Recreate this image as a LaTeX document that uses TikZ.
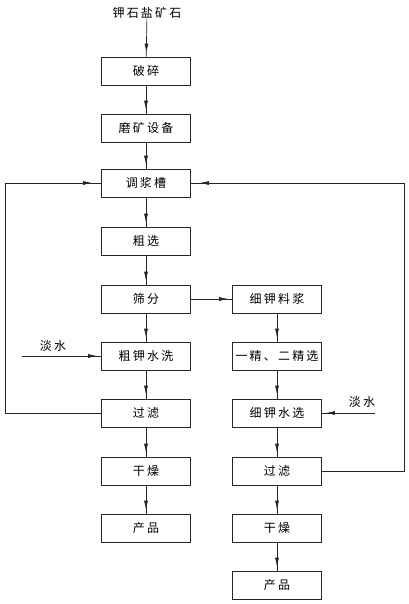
\documentclass[tikz,border=0pt]{standalone}
\usepackage{fontspec}
\setmainfont{Noto Sans CJK SC}
\usetikzlibrary{arrows.meta,decorations.markings}
\newcommand{\gp}{\hspace{2.2pt}}
\tikzset{
  box/.style={draw=black!85, line width=0.7pt, minimum width=89pt, minimum height=28pt, inner sep=0pt, font=\fontsize{12}{13}\selectfont},
  lbl/.style={inner sep=0pt, font=\fontsize{12}{13}\selectfont},
  flow/.style={draw=black!85, line width=0.7pt, postaction={decorate},
    decoration={markings, mark=at position -4pt with {\arrow{Latex[length=9pt,width=4pt]}}}},
  flowfar/.style={draw=black!85, line width=0.7pt, postaction={decorate},
    decoration={markings, mark=at position -9pt with {\arrow{Latex[length=9pt,width=4pt]}}}}
}
\begin{document}
\begin{tikzpicture}[x=1pt,y=-1pt]
\useasboundingbox (0,0) rectangle (408,604);
% left column
\node[lbl] (ore) at (147,13) {钾\gp 石\gp 盐\gp 矿\gp 石};
\node[box] (pos) at (146,71) {破\gp 碎};
\node[box] (mill) at (146,128) {磨\gp 矿\gp 设\gp 备};
\node[box] (tank) at (146,183) {调\gp 浆\gp 槽};
\node[box] (rough) at (146,241) {粗\gp 选};
\node[box] (sieve) at (146,299) {筛\gp 分};
\node[box] (cwash) at (146,356) {粗\gp 钾\gp 水\gp 洗};
\node[box] (filtL) at (146,413) {过\gp 滤};
\node[box] (dryL) at (146,471) {干\gp 燥};
\node[box] (prodL) at (146,528) {产\gp 品};
% right column
\node[box] (slurry) at (277,299) {细\gp 钾\gp 料\gp 浆};
\node[box] (clean) at (277,356) {一\gp 精\gp 、\gp 二\gp 精\gp 选};
\node[box] (fwash) at (277,413) {细\gp 钾\gp 水\gp 选};
\node[box] (filtR) at (277,471) {过\gp 滤};
\node[box] (dryR) at (277,528) {干\gp 燥};
\node[box] (prodR) at (277,585) {产\gp 品};
% water inputs
\coordinate (wL) at (22,356);
\coordinate (wR) at (375,413);
\node[lbl] (wLl) at (53,346) {淡\gp 水};
\node[lbl] (wRl) at (362,402) {淡\gp 水};
% main flow
\draw[flow] (ore) -- (pos);
\draw[flow] (pos) -- (mill);
\draw[flow] (mill) -- (tank);
\draw[flow] (tank) -- (rough);
\draw[flow] (rough) -- (sieve);
\draw[flow] (sieve) -- (cwash);
\draw[flow] (cwash) -- (filtL);
\draw[flow] (filtL) -- (dryL);
\draw[flow] (dryL) -- (prodL);
\draw[flow] (sieve) -- (slurry);
\draw[flow] (slurry) -- (clean);
\draw[flow] (clean) -- (fwash);
\draw[flow] (fwash) -- (filtR);
\draw[flow] (filtR) -- (dryR);
\draw[flow] (dryR) -- (prodR);
\draw[flow] (wL) -- (cwash);
\draw[flow] (wR) -- (fwash);
% feedback loops
\draw[flowfar] (filtL.west) -- (5,413) -- (5,183) -- (tank.west);
\draw[flowfar] (filtR.east) -- (404,471) -- (404,183) -- (tank.east);
\end{tikzpicture}
\end{document}
